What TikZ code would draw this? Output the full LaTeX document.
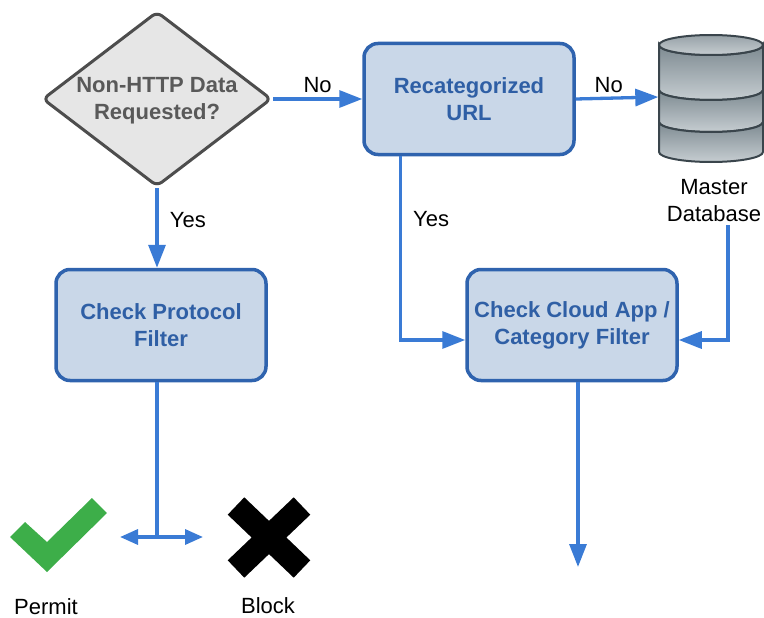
\documentclass[tikz,border=0pt]{standalone}
\usepackage{fontspec}
\setmainfont{Liberation Sans}
\usetikzlibrary{positioning,shapes.geometric,arrows.meta}

\definecolor{flowblue}{HTML}{3A7BD5}
\definecolor{boxfill}{HTML}{C9D7E8}
\definecolor{boxline}{HTML}{2F63AE}
\definecolor{boxtext}{HTML}{2F5FA5}
\definecolor{askfill}{HTML}{E6E6E6}
\definecolor{askline}{HTML}{4D4D4D}
\definecolor{asktext}{HTML}{595959}
\definecolor{okgreen}{HTML}{3DAE49}
\definecolor{dbline}{HTML}{3A454C}
\definecolor{dbdark}{HTML}{7D8A91}
\definecolor{dblight}{HTML}{C6CDD1}

\tikzset{
	filterbox/.style={draw=boxline, fill=boxfill, line width=3.5pt, rounded corners=14pt,
		minimum width=210pt, minimum height=111pt, align=center, text=boxtext,
		font=\fontsize{22}{27}\selectfont\bfseries},
	askbox/.style={diamond, draw=askline, fill=askfill, line width=3pt, rounded corners=6pt,
		minimum width=229pt, minimum height=175pt, inner sep=0pt},
	asktext/.style={align=center, text=asktext, font=\fontsize{22}{27}\selectfont\bfseries},
	flow/.style={draw=flowblue, line width=3.3pt, -{Triangle[length=23pt,width=17pt]}},
	lbl/.style={font=\fontsize{22}{27}\selectfont, align=center},
	band/.style={draw=dbline, line width=2pt, top color=dbdark, bottom color=dblight}
}

\begin{document}
\begin{tikzpicture}[x=1pt, y=-1pt]
	\useasboundingbox (0,0) rectangle (764,618);
	
	\node[askbox, label={[asktext, yshift=-2pt]center:Non-HTTP Data\\Requested?}] (ask) at (157,99) {};
	\node[filterbox] (url) at (469,99) {Recategorized\\URL};
	\node[filterbox] (proto) at (161,325) {Check Protocol\\Filter};
	\node[filterbox] (cloud) at (572,325) {Check Cloud App /\\Category Filter};
	
	% database
	\node[minimum width=105pt, minimum height=125pt] (db) at (711,97) {};
	\foreach \ya/\yb in {45/90, 90/122, 122/152}
		\shade[band] (659,\ya) -- (659,\yb) arc[start angle=180, end angle=360, x radius=52pt, y radius=10pt]
			-- (763,\ya) arc[start angle=360, end angle=180, x radius=52pt, y radius=10pt] -- cycle;
	\shade[band, top color=dbdark!80, bottom color=dblight] (711,45) ellipse [x radius=52pt, y radius=10pt];
	\node[lbl, below=16pt of db, xshift=3pt] (dblbl) {Master\\Database};
	
	% permit / block
	\fill[okgreen] (10,537) -- (25,522) -- (47,542) -- (92,498) -- (107,513) -- (47,572) -- cycle;
	\draw[line width=24pt] (236,506) -- (302,569) (302,506) -- (236,569);
	\node[lbl] (permit) at (46,607) {Permit};
	\node[lbl] (block) at (268,606) {Block};
	\coordinate (split) at (157,537);
	\coordinate (stop) at (578,567);
	
	\draw[flow] (ask.east) -- node[lbl, above=1pt] {No} (url.west);
	\draw[flow] (url.east) -- node[lbl, above=1pt, pos=.4] {No} (db.west);
	\draw[flow] (ask.south) -- node[lbl, right=8pt, pos=.4] {Yes} (ask.south |- proto.north);
	\draw[flow] ([xshift=38pt]url.south west) |- node[lbl, right=8pt, pos=.17] {Yes} ([yshift=-15pt]cloud.west);
	\draw[flow] ([xshift=14pt]dblbl.south) |- ([yshift=-15pt]cloud.east);
	\draw[flow] ([xshift=6pt]cloud.south) -- (stop);
	\draw[draw=flowblue, line width=3.3pt] (split |- proto.south) -- (split);
	\draw[draw=flowblue, line width=3.3pt, {Triangle[length=18pt,width=15pt]}-{Triangle[length=18pt,width=15pt]}]
		([xshift=-37pt]split) -- ([xshift=46pt]split);
\end{tikzpicture}
\end{document}
